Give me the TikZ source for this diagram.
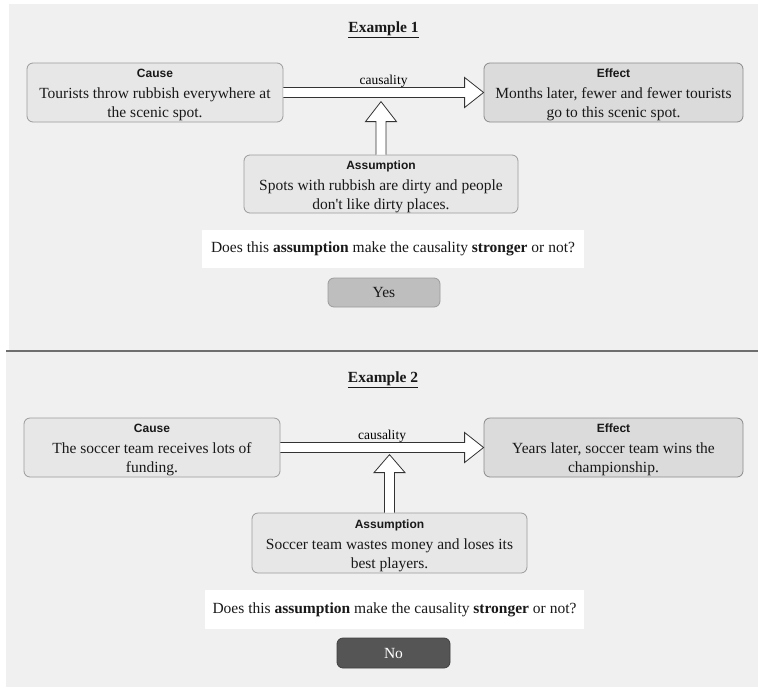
\documentclass[tikz,border=0pt]{standalone}
\usepackage{fontspec}
\setmainfont{Liberation Serif}
\setsansfont{Liberation Sans}
\newfontfamily\plainserif{Liberation Serif}
\usepackage{xcolor}
\usepackage{tikz}
\usetikzlibrary{calc}

\definecolor{panelbg}{RGB}{240,240,240}
\definecolor{boxline}{RGB}{155,155,155}
\definecolor{causefill}{RGB}{231,231,231}
\definecolor{effectfill}{RGB}{219,219,219}
\definecolor{yesfill}{RGB}{190,190,190}
\definecolor{nofill}{RGB}{85,85,85}
\definecolor{rulegray}{RGB}{110,110,110}

\tikzset{
  txt/.style={font=\fontsize{15.5}{19}\selectfont, text=black!90},
  box/.style={txt, draw=boxline, line width=0.8pt, rounded corners=6pt, align=center, inner sep=0pt},
  causebox/.style={box, fill=causefill, minimum width=256pt, minimum height=59pt},
  effectbox/.style={box, fill=effectfill, draw=boxline!90!black, minimum width=259pt, minimum height=59pt},
  asmbox/.style={box, fill=causefill, minimum width=275pt, minimum height=59pt},
  question/.style={txt, fill=white, inner sep=0pt, minimum width=380pt, minimum height=38pt},
  answer/.style={box, minimum width=112pt, minimum height=29pt},
  title/.style={txt, font=\fontsize{15.5}{19}\selectfont\bfseries},
  lbl/.style={font=\fontsize{13.5}{16}\selectfont, inner sep=0pt},
  hollow/.style={draw=black!80, fill=white, line width=0.8pt, line join=miter},
}
\newcommand{\head}[1]{{\sffamily\bfseries\fontsize{12}{14}\selectfont\rule{0pt}{14pt}#1}\\[2pt]}

\begin{document}
\begin{tikzpicture}[x=1pt, y=-1pt]
    \useasboundingbox (0,0) rectangle (758,697);
    \fill[panelbg] (9,4) rectangle (758,351);
    \fill[panelbg] (6,351) rectangle (758,687);
    \draw[rulegray, line width=2pt] (6,351) -- (758,351);

    % Example 1
    \coordinate (t1) at (383.5,30);
    \coordinate (c1) at (155,92.5);
    \coordinate (e1) at (613.5,92.5);
    \coordinate (a1) at (381,184);
    \coordinate (d1) at (393,249);
    \coordinate (y1) at (384,292.5);
    \node[title] (title1) at (t1) {\underline{Example 1}};
    \node[causebox] (cause1) at (c1) {\head{Cause} Tourists throw rubbish everywhere at\\ the scenic spot.};
    \node[effectbox] (effect1) at (e1) {\head{Effect} Months later, fewer and fewer tourists\\ go to this scenic spot.};
    \node[asmbox, minimum width=274pt, minimum height=58pt] (asm1) at (a1) {\head{Assumption} Spots with rubbish are dirty and people\\ don{\plainserif '}t like dirty places.};
    \node[question, minimum width=382pt] (ask1) at (d1) {Does this \textbf{assumption} make the causality \textbf{stronger} or not?};
    \node[answer, fill=yesfill, draw=boxline] (yes) at (y1) {Yes};
    \coordinate (tip1) at ($(asm1.north)+(0,-53)$);
    \draw[hollow] ($(cause1.east)+(0,-5)$) -- ($(effect1.west)+(-19,-5)$) -- ($(effect1.west)+(-19,-15)$)
        -- (effect1.west) -- ($(effect1.west)+(-19,15)$) -- ($(effect1.west)+(-19,5)$) -- ($(cause1.east)+(0,5)$);
    \draw[hollow] ($(asm1.north)+(-5,0)$) -- ($(tip1)+(-5,20)$) -- ($(tip1)+(-15.5,20)$)
        -- (tip1) -- ($(tip1)+(15.5,20)$) -- ($(tip1)+(5,20)$) -- ($(asm1.north)+(5,0)$);
    \path (cause1.east) -- node[lbl, above=5pt] (caus1) {causality} (effect1.west);

    % Example 2
    \coordinate (t2) at (383,380);
    \coordinate (c2) at (152,447.5);
    \coordinate (e2) at (613.5,447.5);
    \coordinate (a2) at (389.5,543);
    \coordinate (d2) at (394.5,609.5);
    \coordinate (n2) at (393.5,653);
    \node[title] (title2) at (t2) {\underline{Example 2}};
    \node[causebox] (cause2) at (c2) {\head{Cause} The soccer team receives lots of\\ funding.};
    \node[effectbox] (effect2) at (e2) {\head{Effect} Years later, soccer team wins the\\ championship.};
    \node[asmbox, minimum height=60pt] (asm2) at (a2) {\head{Assumption} Soccer team wastes money and loses its\\ best players.};
    \node[question, minimum width=379pt, minimum height=39pt] (ask2) at (d2) {Does this \textbf{assumption} make the causality \textbf{stronger} or not?};
    \node[answer, fill=nofill, draw=black!75, text=white, minimum width=113pt, minimum height=30pt] (no) at (n2) {No};
    \coordinate (tip2) at ($(asm2.north)+(0,-58)$);
    \draw[hollow] ($(cause2.east)+(0,-5)$) -- ($(effect2.west)+(-19,-5)$) -- ($(effect2.west)+(-19,-15)$)
        -- (effect2.west) -- ($(effect2.west)+(-19,15)$) -- ($(effect2.west)+(-19,5)$) -- ($(cause2.east)+(0,5)$);
    \draw[hollow] ($(asm2.north)+(-5,0)$) -- ($(tip2)+(-5,18)$) -- ($(tip2)+(-15.5,18)$)
        -- (tip2) -- ($(tip2)+(15.5,18)$) -- ($(tip2)+(5,18)$) -- ($(asm2.north)+(5,0)$);
    \path (cause2.east) -- node[lbl, above=5pt] (caus2) {causality} (effect2.west);
  \end{tikzpicture}
\end{document}
